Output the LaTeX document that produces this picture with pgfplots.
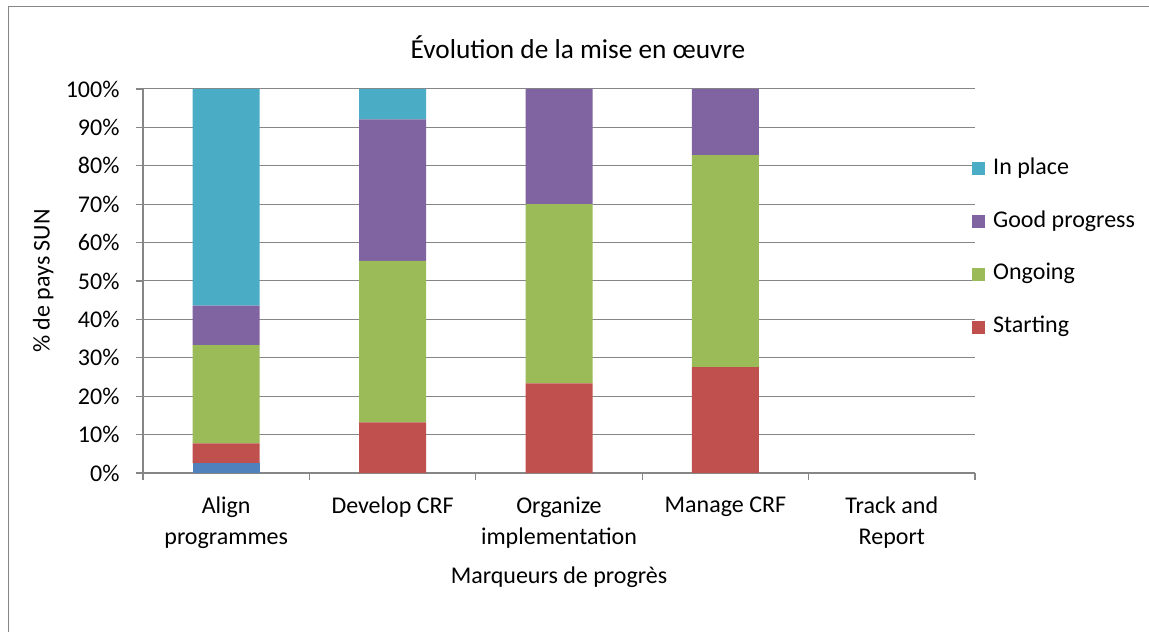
\documentclass[border=0pt]{standalone}
\usepackage{pgfplots}
\pgfplotsset{compat=1.18}
\usepackage{fontspec}
\setmainfont{Carlito}
\definecolor{cblue}{HTML}{4F81BD}
\definecolor{cred}{HTML}{C0504D}
\definecolor{cgreen}{HTML}{9BBB59}
\definecolor{cpurple}{HTML}{8064A2}
\definecolor{ccyan}{HTML}{4BACC6}
\definecolor{gridgray}{HTML}{868686}
\begin{document}
\begin{tikzpicture}[x=1pt,y=1pt,font=\fontsize{24}{29.3}\selectfont]
\useasboundingbox (0,0) rectangle (1149,632);
\draw[gridgray, line width=1.2pt] (8.5,0) -- (8.5,625.5) -- (1149,625.5);
\node[font=\fontsize{27.3}{32}\selectfont] at (578,585) {Évolution de la mise en œuvre};
\begin{axis}[
  at={(143pt,159pt)}, anchor=south west,
  width=832pt, height=384pt, scale only axis,
  ybar stacked, bar width=67pt,
  xmin=-0.5, xmax=4.5, ymin=0, ymax=100,
  axis x line*=bottom, axis y line*=left,
  axis line style={gridgray, line width=1.2pt, -},
  ymajorgrids, grid style={gridgray, line width=1pt},
  xtick={0,1,2,3,4},
  xticklabels={Align\\programmes, Develop CRF, Organize\\implementation, Manage CRF, Track and\\Report},
  xticklabel style={align=center, anchor=north, yshift=-13pt, font=\fontsize{24}{31}\selectfont},
  xtick style={draw=none},
  extra x ticks={-0.5,0.5,1.5,2.5,3.5,4.5},
  extra x tick labels={},
  extra x tick style={xtick style={draw=gridgray, line width=1.2pt}, major tick length=7pt, grid=none},
  ytick={0,10,...,100},
  yticklabel={\pgfmathprintnumber{\tick}\%},
  yticklabel style={xshift=-13pt},
  /pgf/number format/assume math mode=true,
  ytick style={draw=gridgray, line width=1.2pt},
  tick align=outside, major tick length=7pt,
  xlabel={Marqueurs de progrès},
  ylabel={\% de pays SUN},
  xlabel style={at={(axis description cs:0.5,-0.271)}, anchor=center},
  ylabel style={at={(axis description cs:-0.12,0.5)}, anchor=center},
  reverse legend,
  legend style={at={(0.9964,0.586)}, anchor=west, draw=none, fill=none,
    inner sep=0pt, column sep=8pt, row sep=29.7pt,
    nodes={inner sep=0pt, text height=17pt, text depth=6pt}},
  legend cell align=left,
  legend image code/.code={\fill[#1] (0pt,-6.5pt) rectangle (13pt,6.5pt);},
]
\addplot+[draw=none, fill=cblue, forget plot] coordinates {(0,2.56) (1,0) (2,0) (3,0) (4,0)};
\addplot+[draw=none, fill=cred] coordinates {(0,5.13) (1,13.16) (2,23.33) (3,27.59) (4,0)};
\addlegendentry{Starting}
\addplot+[draw=none, fill=cgreen] coordinates {(0,25.64) (1,42.11) (2,46.67) (3,55.17) (4,0)};
\addlegendentry{Ongoing}
\addplot+[draw=none, fill=cpurple] coordinates {(0,10.26) (1,36.84) (2,30.00) (3,17.24) (4,0)};
\addlegendentry{Good progress}
\addplot+[draw=none, fill=ccyan] coordinates {(0,56.41) (1,7.89) (2,0) (3,0) (4,0)};
\addlegendentry{In place}
\end{axis}
\end{tikzpicture}
\end{document}
